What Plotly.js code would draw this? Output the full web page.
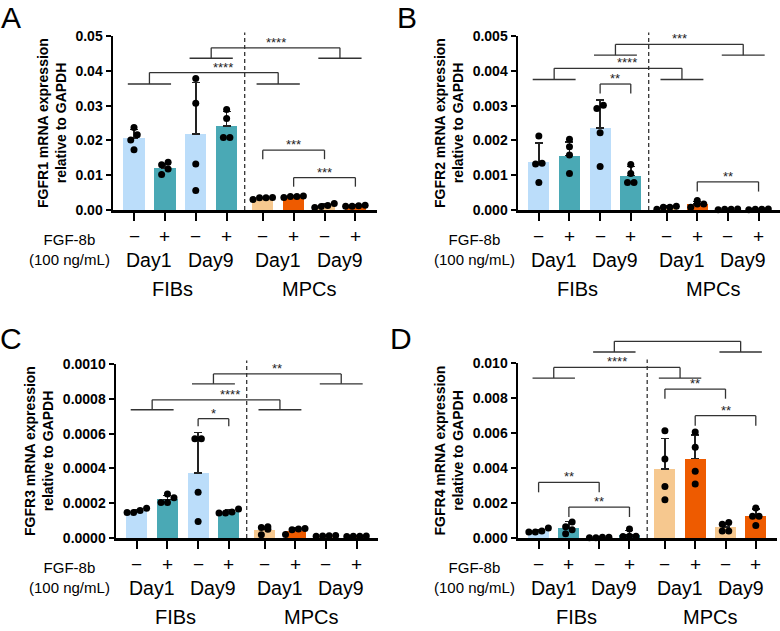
<!DOCTYPE html>
<html><head><meta charset="utf-8">
<script src="https://cdn.plot.ly/plotly-3.0.1.min.js"></script>
<style>html,body{margin:0;padding:0;background:#fff}</style>
</head><body>
<div id="chart" style="width:780px;height:631px"></div>
<script>
// ---------------- DATA ----------------
const groupNames = ['FIBs Day1 −','FIBs Day1 +','FIBs Day9 −','FIBs Day9 +','MPCs Day1 −','MPCs Day1 +','MPCs Day9 −','MPCs Day9 +'];
const treatmentLabels = ['−','+','−','+','−','+','−','+'];
const dayLabels = ['Day1','Day9','Day1','Day9'];
const cellTypeLabels = ['FIBs','MPCs'];
const barColors = ['#BBDDFA','#4AA9B5','#BBDDFA','#4AA9B5','#F6C88F','#EE5B00','#F6C88F','#EE5B00'];

// FGFR1
const fgfr1Mean   = [0.0207, 0.0121, 0.0218, 0.0241, 0.0034, 0.0038, 0.0011, 0.0012];
const fgfr1ErrTop = [0.0232, 0.0134, 0.0366, 0.0283, 0.0036, 0.0040, 0.0017, 0.0014];
const fgfr1Dots = [
  [0.0237, 0.0216, 0.0201, 0.0173],
  [0.0137, 0.0130, 0.0118, 0.0102],
  [0.0378, 0.0307, 0.0132, 0.0056],
  [0.0289, 0.0263, 0.0208, 0.0208],
  [0.0030, 0.0036, 0.0035, 0.0035],
  [0.0036, 0.0040, 0.0039, 0.0039],
  [0.0007, 0.0019, 0.0013, 0.0010],
  [0.0011, 0.0014, 0.0012, 0.0011]
];
// FGFR2
const fgfr2Mean   = [0.00137, 0.00156, 0.00235, 0.00099, 0.00007, 0.00017, 0.00002, 0.00002];
const fgfr2ErrTop = [0.00192, 0.00195, 0.00316, 0.00125, 0.00011, 0.00024, 0.00003, 0.00003];
const fgfr2Dots = [
  [0.00213, 0.00134, 0.00132, 0.00079],
  [0.00203, 0.00182, 0.00158, 0.00105],
  [0.00301, 0.00292, 0.00222, 0.00125],
  [0.00131, 0.00105, 0.00079, 0.00079],
  [0.00002, 0.00008, 0.00011, 0.00008],
  [0.00027, 0.00008, 0.00017, 0.00017],
  [0.00002, 0.00003, 0.00002, 0.00001],
  [0.00002, 0.00002, 0.00003, 0.00001]
];
// FGFR3
const fgfr3Mean   = [0.000155, 0.000222, 0.000375, 0.000152, 0.000048, 0.000043, 0.000012, 0.000010];
const fgfr3ErrTop = [0.000165, 0.000244, 0.000606, 0.000160, 0.000066, 0.000060, 0.000015, 0.000012];
const fgfr3Dots = [
  [0.000171, 0.000158, 0.000147, 0.000147],
  [0.000253, 0.000232, 0.000204, 0.000204],
  [0.000571, 0.000571, 0.000263, 0.000095],
  [0.000166, 0.000150, 0.000143, 0.000143],
  [0.000061, 0.000065, 0.000051, 0.000019],
  [0.000055, 0.000048, 0.000052, 0.000020],
  [0.000012, 0.000015, 0.000010, 0.000013],
  [0.000009, 0.000010, 0.000011, 0.000010]
];
// FGFR4
const fgfr4Mean   = [0.00041, 0.00057, 0.00003, 0.00020, 0.00395, 0.00454, 0.00062, 0.00123];
const fgfr4ErrTop = [0.00050, 0.00095, 0.00005, 0.00043, 0.00570, 0.00589, 0.00086, 0.00166];
const fgfr4Dots = [
  [0.00057, 0.00040, 0.00034, 0.00034],
  [0.00091, 0.00065, 0.00047, 0.00025],
  [0.00002, 0.00004, 0.00004, 0.00002],
  [0.00051, 0.00010, 0.00008, 0.00010],
  [0.00613, 0.00451, 0.00295, 0.00219],
  [0.00606, 0.00518, 0.00381, 0.00309],
  [0.00088, 0.00078, 0.00040, 0.00040],
  [0.00171, 0.00124, 0.00124, 0.00072]
];

// significance comparisons (group indices + labels)
const fgfr1Sig = [
  {pairA:[2,3], pairB:[6,7], label:'****'},
  {pairA:[0,1], pairB:[4,5], label:'****'},
  {from:4, to:6, label:'***'},
  {from:5, to:7, label:'***'}
];
const fgfr2Sig = [
  {pairA:[2,3], pairB:[6,7], label:'***'},
  {pairA:[0,1], pairB:[4,5], label:'****'},
  {from:2, to:3, label:'**'},
  {from:5, to:7, label:'**'}
];
const fgfr3Sig = [
  {pairA:[2,3], pairB:[6,7], label:'**'},
  {pairA:[0,1], pairB:[4,5], label:'****'},
  {from:2, to:3, label:'*'}
];
const fgfr4Sig = [
  {pairA:[2,3], pairB:[6,7], label:''},
  {pairA:[0,1], pairB:[4,5], label:'****'},
  {from:4, to:6, label:'**'},
  {from:5, to:7, label:'**'},
  {from:0, to:2, label:'**'},
  {from:1, to:3, label:'**'}
];

// ---------------- LAYOUT / DRAWING ----------------
const W = 780, H = 631;
const FONT = 'Arial, "Liberation Sans", Helvetica, sans-serif';
const XR = [-0.68, 7.87];
const pos = groupNames.map((g, i) => i + (i >= 4 ? 0.17 : 0));

// bracket levels (in axis units) for drawing
const bracketLevels = {
  A: [{low:0.0436, high:0.0466}, {low:0.0362, high:0.0395, lx:2.87}, {top:0.0172, end:0.0146}, {top:0.0093, end:0.0067}],
  B: [{low:0.00445, high:0.00476}, {low:0.00375, high:0.00407, lx:2.87}, {top:0.00362, end:0.00335}, {top:0.00081, end:0.00053}],
  C: [{low:0.000886, high:0.000943}, {low:0.000737, high:0.000794, lx:3.05}, {top:0.000686, end:0.000642}],
  D: [{low:0.01063, high:0.01124}, {low:0.00914, high:0.00975}, {top:0.00851, end:0.00796}, {top:0.00699, end:0.00642}, {top:0.00318, end:0.00261}, {top:0.00177, end:0.00120}]
};

const panels = [
  {key:'A', gene:'FGFR1', mean:fgfr1Mean, errTop:fgfr1ErrTop, dots:fgfr1Dots, sig:fgfr1Sig, ymax:0.05, fmt:'.2f', x0:113, x1:377, yTop:36, yBot:210, letterX:11, letterY:18, fgfX:69},
  {key:'B', gene:'FGFR2', mean:fgfr2Mean, errTop:fgfr2ErrTop, dots:fgfr2Dots, sig:fgfr2Sig, ymax:0.005, fmt:'.3f', x0:518, x1:780, yTop:36, yBot:210, letterX:407, letterY:18, fgfX:475},
  {key:'C', gene:'FGFR3', mean:fgfr3Mean, errTop:fgfr3ErrTop, dots:fgfr3Dots, sig:fgfr3Sig, ymax:0.001, fmt:'.4f', x0:116, x1:378, yTop:364, yBot:538, letterX:11, letterY:338, fgfX:69},
  {key:'D', gene:'FGFR4', mean:fgfr4Mean, errTop:fgfr4ErrTop, dots:fgfr4Dots, sig:fgfr4Sig, ymax:0.01, fmt:'.3f', x0:518, x1:777, yTop:363, yBot:538, letterX:401, letterY:338, fgfX:475}
];

const traces = [], shapes = [], annotations = [];
const layout = {
  width: W, height: H, margin:{l:0,r:0,t:0,b:0},
  paper_bgcolor:'#fff', plot_bgcolor:'rgba(0,0,0,0)',
  showlegend:false, bargap:0, font:{family:FONT, color:'#000'},
  shapes, annotations
};

panels.forEach((p, k) => {
  const n = k + 1;
  const xa = n === 1 ? 'x' : 'x' + n;
  const ya = n === 1 ? 'y' : 'y' + n;
  const xKey = n === 1 ? 'xaxis' : 'xaxis' + n;
  const yKey = n === 1 ? 'yaxis' : 'yaxis' + n;
  const plotW = p.x1 - p.x0, plotH = p.yBot - p.yTop;
  const unitPx = plotW / (XR[1] - XR[0]);

  layout[xKey] = {
    domain:[p.x0 / W, p.x1 / W], range:XR, anchor:ya,
    showline:true, linewidth:2.5, linecolor:'#000', mirror:false,
    ticks:'outside', ticklen:8, tickwidth:2, tickcolor:'#000',
    tickmode:'array', tickvals:pos, showticklabels:false,
    showgrid:false, zeroline:false, fixedrange:true
  };
  layout[yKey] = {
    domain:[1 - p.yBot / H, 1 - p.yTop / H], range:[0, p.ymax], anchor:xa,
    showline:true, linewidth:2.5, linecolor:'#000',
    ticks:'outside', ticklen:5, tickwidth:2, tickcolor:'#000',
    dtick:p.ymax / 5, tick0:0, tickformat:p.fmt,
    tickfont:{family:FONT, size:14, weight:'bold', color:'#000'},
    showgrid:false, zeroline:false, fixedrange:true,
    title:{text:p.gene + ' mRNA expression<br>relative to GAPDH', font:{family:FONT, size:14, weight:'bold', color:'#000'}, standoff:6}
  };

  // bars + upward error bars
  traces.push({
    type:'bar', x:pos, y:p.mean, width:0.69, xaxis:xa, yaxis:ya,
    marker:{color:barColors, line:{width:0}},
    error_y:{type:'data', symmetric:false,
      array:p.errTop.map((t, i) => Math.max(0, t - p.mean[i])),
      arrayminus:p.mean.map(() => 0),
      color:'#222', thickness:1.5, width:4},
    hoverinfo:'skip'
  });

  // individual points, arranged in rows (swarm-like)
  const dx = [], dy = [];
  const dotPx = 6.5;
  p.dots.forEach((vals, gi) => {
    const sorted = vals.slice().sort((a, b) => a - b);
    let rows = [];
    sorted.forEach(v => {
      const px = v / p.ymax * plotH;
      const last = rows[rows.length - 1];
      if (last && px - last.startPx < dotPx) last.vals.push(v);
      else rows.push({startPx:px, vals:[v]});
    });
    rows.forEach(r => {
      const m = r.vals.length;
      r.vals.forEach((v, j) => {
        dx.push(pos[gi] + (j - (m - 1) / 2) * dotPx / unitPx);
        dy.push(v);
      });
    });
  });
  traces.push({type:'scatter', mode:'markers', x:dx, y:dy, xaxis:xa, yaxis:ya,
    marker:{size:7, color:'#000'}, cliponaxis:false, hoverinfo:'skip'});

  // helpers for domain-referenced shapes (not clipped)
  const xr = xa + ' domain', yr = ya + ' domain';
  const fx = v => (v - XR[0]) / (XR[1] - XR[0]);
  const fy = v => v / p.ymax;
  const lineStyle = {color:'#333', width:1.3};
  const seg = (xA, yA, xB, yB) => shapes.push({type:'line', xref:xr, yref:yr,
    x0:fx(xA), y0:fy(yA), x1:fx(xB), y1:fy(yB), line:lineStyle, layer:'above'});

  // dashed separator between FIBs and MPCs
  const sepX = (pos[3] + pos[4]) / 2;
  shapes.push({type:'line', xref:xr, yref:yr, x0:fx(sepX), x1:fx(sepX), y0:0, y1:1.02,
    line:{color:'#333', width:1.3, dash:'4px,3px'}});

  const lv = bracketLevels[p.key];
  p.sig.forEach((s, si) => {
    const L = lv[si];
    let labX, labY;
    if (s.pairA) {
      const a0 = pos[s.pairA[0]], a1 = pos[s.pairA[1]];
      const b0 = pos[s.pairB[0]], b1 = pos[s.pairB[1]];
      const am = (a0 + a1) / 2, bm = (b0 + b1) / 2;
      seg(a0 - 0.2, L.low, a1 + 0.2, L.low);
      seg(b0 - 0.2, L.low, b1 + 0.2, L.low);
      seg(am, L.low, am, L.high);
      seg(bm, L.low, bm, L.high);
      seg(am, L.high, bm, L.high);
      labX = L.lx !== undefined ? L.lx : (am + bm) / 2;
      labY = L.high;
    } else {
      const a = pos[s.from], b = pos[s.to];
      seg(a, L.end, a, L.top);
      seg(a, L.top, b, L.top);
      seg(b, L.top, b, L.end);
      labX = (a + b) / 2;
      labY = L.top;
    }
    if (s.label) annotations.push({xref:xr, yref:yr, x:fx(labX), y:fy(labY),
      text:s.label, showarrow:false, xanchor:'center', yanchor:'bottom', yshift:-4,
      font:{family:FONT, size:13, color:'#222'}});
  });

  // panel letter
  annotations.push({xref:'paper', yref:'paper', x:p.letterX / W, y:1 - p.letterY / H,
    text:p.key, showarrow:false, xanchor:'center', yanchor:'middle',
    font:{family:FONT, size:30, color:'#000'}});

  // category labels under the axis
  const off = p.yBot - 210;
  const py = v => 1 - (v + off) / H;
  treatmentLabels.forEach((t, i) => annotations.push({xref:xa, yref:'paper', x:pos[i], y:py(236),
    text:t, showarrow:false, xanchor:'center', yanchor:'middle', font:{family:FONT, size:19}}));
  dayLabels.forEach((d, j) => {
    const xm = (pos[2 * j] + pos[2 * j + 1]) / 2;
    annotations.push({xref:xa, yref:'paper', x:xm, y:py(259.5), text:d, showarrow:false,
      xanchor:'center', yanchor:'middle', font:{family:FONT, size:19.5}});
  });
  cellTypeLabels.forEach((c, j) => {
    const xm = j === 0 ? 1.25 : (pos[4] + pos[7]) / 2;
    annotations.push({xref:xa, yref:'paper', x:xm, y:py(289), text:c, showarrow:false,
      xanchor:'center', yanchor:'middle', font:{family:FONT, size:20}});
  });
  annotations.push({xref:'paper', yref:'paper', x:p.fgfX / W, y:py(249.5), text:'FGF-8b<br>(100 ng/mL)',
    showarrow:false, xanchor:'center', yanchor:'middle', align:'center', font:{family:FONT, size:15}});
});

Plotly.newPlot('chart', traces, layout, {staticPlot:true, displayModeBar:false});
</script>
</body></html>
